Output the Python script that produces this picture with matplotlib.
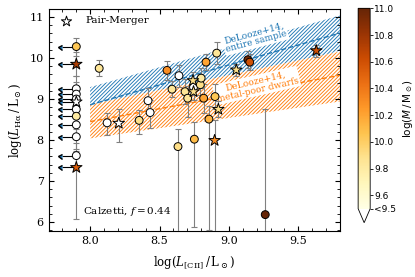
import matplotlib
matplotlib.use('Agg')
import matplotlib.pyplot as plt
import numpy as np
from matplotlib import colors as mcolors
from matplotlib.ticker import MultipleLocator

plt.rcParams['font.family'] = ['DejaVu Serif']
plt.rcParams['mathtext.fontset'] = 'dejavuserif'
plt.rcParams['hatch.linewidth'] = 0.65

# ---------------- data ----------------
# detections: log L_CII, log L_Halpha, lower err, upper err, log M, pair-merger flag
det_x = [8.065, 8.122, 8.206, 8.353, 8.417, 8.432, 8.554, 8.590, 8.633, 8.640,
         8.684, 8.703, 8.741, 8.745, 8.745, 8.751, 8.794, 8.800, 8.818, 8.835,
         8.856, 8.897, 8.900, 8.912, 8.924, 9.053, 9.137, 9.150, 9.262, 9.630]
det_y = [9.75, 8.42, 8.41, 8.48, 8.96, 8.67, 9.70, 9.24, 7.84, 9.57,
         9.18, 9.02, 9.45, 9.29, 9.18, 8.02, 9.35, 9.51, 9.02, 9.90,
         8.51, 7.99, 9.06, 10.12, 8.75, 9.71, 9.96, 9.90, 6.18, 10.18]
det_elo = [0.20, 0.30, 0.45, 0.33, 0.30, 0.37, 0.23, 0.20, 2.10, 0.27,
           0.30, 0.45, 0.20, 0.20, 0.20, 2.14, 0.25, 0.25, 0.35, 0.20,
           2.70, 2.50, 0.30, 0.26, 0.20, 0.15, 0.20, 0.20, 1.00, 0.15]
det_ehi = [0.20, 0.25, 0.34, 0.25, 0.30, 0.30, 0.23, 0.20, 0.42, 0.27,
           0.30, 0.30, 0.20, 0.20, 0.20, 0.43, 0.25, 0.25, 0.35, 0.20,
           0.32, 0.50, 0.30, 0.26, 0.20, 0.15, 0.20, 0.20, 2.57, 0.15]
det_mass = [9.85, 9.0, 9.0, 9.90, 9.0, 9.0, 10.30, 9.85, 9.90, 9.0,
            9.85, 9.85, 9.90, 9.0, 9.90, 10.10, 9.90, 9.80, 10.20, 10.20,
            10.15, 10.30, 10.05, 9.85, 9.90, 9.90, 10.95, 10.60, 11.0, 10.60]
det_merger = [0, 0, 1, 0, 0, 0, 0, 0, 0, 0,
              0, 0, 1, 0, 1, 0, 0, 0, 0, 0,
              0, 1, 0, 0, 1, 1, 0, 0, 0, 1]

# upper limits in L_CII (plotted at log L_CII = 7.9)
lim_x = [7.9] * 12
lim_y = [10.28, 9.85, 9.25, 9.12, 9.00, 8.93, 8.75, 8.58, 8.37, 8.08, 7.62, 7.33]
lim_err_lo = [0.22, 0.30, 0.30, 0.30, 0.30, 0.30, 0.30, 0.30, 0.30, 0.30, 0.30, 1.26]
lim_err_hi = [0.22, 0.30, 0.30, 0.30, 0.30, 0.30, 0.30, 0.30, 0.30, 0.30, 0.30, 0.40]
lim_mass = [10.05, 10.75, 9.0, 9.0, 9.0, 9.0, 9.0, 9.80, 9.0, 9.0, 9.0, 10.55]
lim_merger = [0, 1, 0, 0, 0, 1, 0, 0, 0, 0, 0, 1]

# De Looze+14 relations (band edges at x = 8.0 and 9.8)
band_x = [8.0, 9.8]
all_mid = [8.86, 10.61]
all_halfwidth = 0.43
dwarf_mid = [8.45, 9.58]
dwarf_upper = [8.86, 10.16]
dwarf_lower = [8.04, 8.94]

mass_ticks = [9.5, 9.6, 9.8, 10.0, 10.2, 10.4, 10.6, 10.8, 11.0]
mass_ticklabels = ['<9.5', '9.6', '9.8', '10.0', '10.2', '10.4', '10.6', '10.8', '11.0']

# ---------------- figure ----------------
fig = plt.figure(figsize=(4.15, 2.77), dpi=100)
ax = fig.add_axes([0.117, 0.166, 0.702, 0.802])
cax = fig.add_axes([0.863, 0.196, 0.029, 0.774])

cmap = plt.get_cmap('YlOrBr').copy()
cmap.set_under('white')
norm = mcolors.Normalize(vmin=9.5, vmax=11.0)

blue = '#1f77b4'
orange = '#ff7f0e'
bx = np.array(band_x)
bm = np.array(all_mid)
ax.fill_between(bx, bm - all_halfwidth, bm + all_halfwidth, facecolor='none',
                edgecolor=blue, hatch='/' * 9, linewidth=0, zorder=1)
ax.plot(bx, bm, ls='--', color=blue, lw=1.0, zorder=2)
ax.fill_between(bx, dwarf_lower, dwarf_upper, facecolor='white',
                edgecolor=orange, hatch='/' * 9, linewidth=0, zorder=1.5)
ax.plot(bx, dwarf_mid, ls='--', color=orange, lw=1.0, zorder=2)

ax.text(9.19, 10.50, 'DeLooze+14,\nentire sample', color=blue, fontsize=6.5,
        ha='center', va='center', rotation=15, linespacing=1.0,
        bbox=dict(boxstyle='round,pad=0.15', fc='white', ec='none'), zorder=3)
ax.text(9.20, 9.33, 'DeLooze+14,\nmetal-poor dwarfs', color=orange, fontsize=6.5,
        ha='center', va='center', rotation=13, linespacing=1.0,
        bbox=dict(boxstyle='round,pad=0.15', fc='white', ec='none'), zorder=3)

# error bars
ax.errorbar(det_x, det_y, yerr=[det_elo, det_ehi], fmt='none', ecolor='gray',
            elinewidth=0.8, capsize=2, capthick=0.8, zorder=4)
ax.errorbar(lim_x, lim_y, yerr=[lim_err_lo, lim_err_hi], fmt='none', ecolor='gray',
            elinewidth=0.8, capsize=2, capthick=0.8, zorder=4)
ax.errorbar(lim_x, lim_y, xerr=0.1, xuplims=True, fmt='none', ecolor='black',
            elinewidth=0.8, capsize=1.8, zorder=4)

dx = np.array(det_x); dy = np.array(det_y); dm = np.array(det_mass); dg = np.array(det_merger, bool)
lx = np.array(lim_x); ly = np.array(lim_y); lm = np.array(lim_mass); lg = np.array(lim_merger, bool)
X = np.concatenate([dx, lx]); Y = np.concatenate([dy, ly]); M = np.concatenate([dm, lm])
G = np.concatenate([dg, lg])

ax.scatter(X[~G], Y[~G], c=M[~G], cmap=cmap, norm=norm, s=32, marker='o',
           edgecolors='black', linewidths=0.7, zorder=5)
ax.scatter(X[G], Y[G], c=M[G], cmap=cmap, norm=norm, s=75, marker='*',
           edgecolors='black', linewidths=0.7, zorder=6)

ax.scatter([], [], marker='*', s=60, facecolor='white', edgecolors='black',
           linewidths=0.7, label='Pair-Merger')
ax.legend(loc='upper left', frameon=False, fontsize=7.5, handletextpad=0.8,
          borderaxespad=0.3)

ax.text(0.27, 0.09, 'Calzetti, $f = 0.44$', transform=ax.transAxes, fontsize=7.5,
        ha='center', va='center')

ax.set_xlim(7.7, 9.8)
ax.set_ylim(5.78, 11.2)
ax.xaxis.set_major_locator(MultipleLocator(0.5))
ax.xaxis.set_minor_locator(MultipleLocator(0.1))
ax.yaxis.set_major_locator(MultipleLocator(1))
ax.yaxis.set_minor_locator(MultipleLocator(0.2))
ax.tick_params(which='both', direction='in', top=True, right=True, labelsize=8)
ax.tick_params(which='major', length=3.5, width=0.8)
ax.tick_params(which='minor', length=2, width=0.6)
ax.set_xlabel(r'log($L_{\rm [CII]}\,/\,{\rm L_\odot}$)', fontsize=8.5, labelpad=6)
ax.set_ylabel(r'log($L_{\rm H\alpha}\,/\,{\rm L_\odot}$)', fontsize=8.5, labelpad=4)
for sp in ax.spines.values():
    sp.set_linewidth(0.8)

sm = plt.cm.ScalarMappable(norm=norm, cmap=cmap)
cb = fig.colorbar(sm, cax=cax, extend='min', extendfrac=0.07, ticks=mass_ticks)
cb.ax.set_yticklabels(mass_ticklabels, family='DejaVu Sans', fontsize=6.5)
cb.ax.tick_params(length=2, width=0.6, pad=1)
cb.outline.set_linewidth(0.6)
cb.set_label(r'log($M\,/\,{\rm M_\odot}$)', family='DejaVu Sans',
             math_fontfamily='dejavusans', fontsize=7.5, labelpad=3)

fig.savefig('out.png', dpi=100)
